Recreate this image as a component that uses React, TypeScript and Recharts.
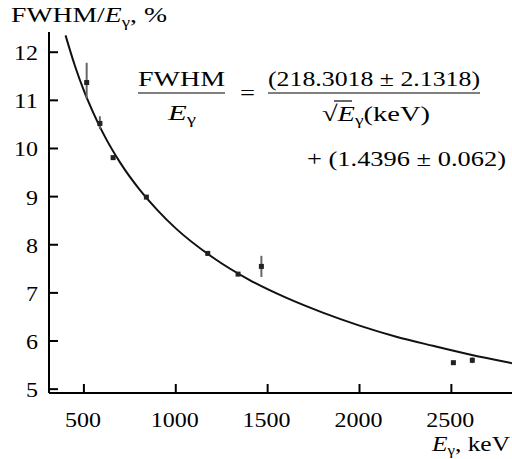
import React from 'react';
import { ComposedChart, Line, Scatter, XAxis, YAxis, ErrorBar } from 'recharts';

// measured points
const energies = [515, 587, 659, 840, 1174, 1339, 1466, 2511, 2614];
const fwhmPct = [11.37, 10.52, 9.81, 8.99, 7.82, 7.39, 7.55, 5.55, 5.6];
const errLow = [0.33, 0.12, 0.04, 0.02, 0.05, 0.03, 0.22, 0.02, 0.06];
const errHigh = [0.41, 0.15, 0.04, 0.02, 0.05, 0.03, 0.22, 0.02, 0.06];

// fitted curve
const fitE = [400, 450, 500, 550, 600, 700, 800, 900, 1000, 1200, 1400, 1600, 1800, 2000, 2200, 2400, 2600, 2830];
const fitV = [12.35, 11.73, 11.2, 10.75, 10.35, 9.69, 9.16, 8.72, 8.34, 7.74, 7.27, 6.9, 6.59, 6.32, 6.09, 5.9, 5.72, 5.54];

const xTicks = [500, 1000, 1500, 2000, 2500];
const yTicks = [5, 6, 7, 8, 9, 10, 11, 12];

const points = energies.map((e, i) => ({ x: e, y: fwhmPct[i], err: [errLow[i], errHigh[i]] }));
const curve = fitE.map((e, i) => ({ x: e, y: fitV[i] }));

const FONT = '"Times New Roman", Times, "Liberation Serif", serif';
const TS = { fontFamily: FONT };

const YTick = (props: any) => {
  const { x, y, payload } = props;
  const s = String(payload.value);
  const w = s.length * 12;
  return (
    <g>
      <line x1={x} x2={x + 9} y1={y} y2={y} stroke="#000" strokeWidth={2} />
      <text x={38 - w} y={y + 8} textLength={w} lengthAdjust="spacingAndGlyphs" fontSize={22} style={TS} fill="#000">{s}</text>
    </g>
  );
};

const XTick = (props: any) => {
  const { x, y, payload } = props;
  const s = String(payload.value);
  const w = s.length * 12;
  return (
    <g>
      <line x1={x} x2={x} y1={y} y2={y - 9} stroke="#000" strokeWidth={2} />
      <text x={x - w / 2 - 1} y={427} textLength={w} lengthAdjust="spacingAndGlyphs" fontSize={22} style={TS} fill="#000">{s}</text>
    </g>
  );
};

const Marker = (props: any) => {
  const { cx, cy } = props;
  return <rect x={cx - 2.5} y={cy - 2.5} width={5} height={5} fill="#222" />;
};

const Overlay = () => (
  <svg width={512} height={459} style={{ position: 'absolute', left: 0, top: 0, pointerEvents: 'none', fontFamily: FONT }}>
    <text x={11} y={22} fontSize={22} style={TS} textLength={156} lengthAdjust="spacingAndGlyphs">
      FWHM/<tspan fontStyle="italic">E</tspan><tspan fontSize={15} dy={5}>γ</tspan><tspan dy={-5}>, %</tspan>
    </text>
    <text x={432} y={451} fontSize={21} style={TS} textLength={78} lengthAdjust="spacingAndGlyphs">
      <tspan fontStyle="italic">E</tspan><tspan fontSize={14} dy={4}>γ</tspan><tspan dy={-4}>, keV</tspan>
    </text>
    {/* equation */}
    <text x={138} y={86} fontSize={22} style={TS} textLength={87} lengthAdjust="spacingAndGlyphs">FWHM</text>
    <line x1={138} x2={225} y1={93} y2={93} stroke="#000" strokeWidth={1.2} />
    <text x={168} y={120} fontSize={22} style={TS} textLength={28} lengthAdjust="spacingAndGlyphs">
      <tspan fontStyle="italic">E</tspan><tspan fontSize={15} dy={4}>γ</tspan>
    </text>
    <text x={240} y={100} fontSize={22} style={TS} textLength={15} lengthAdjust="spacingAndGlyphs">=</text>
    <text x={268} y={86} fontSize={22} style={TS} textLength={212} lengthAdjust="spacingAndGlyphs">(218.3018 ± 2.1318)</text>
    <line x1={268} x2={480} y1={93} y2={93} stroke="#000" strokeWidth={1.2} />
    <text x={322} y={121} fontSize={22} style={TS} textLength={108} lengthAdjust="spacingAndGlyphs">
      √<tspan fontStyle="italic">E</tspan><tspan fontSize={15} dy={4}>γ</tspan><tspan dy={-4}>(keV)</tspan>
    </text>
    <line x1={334} x2={352} y1={101} y2={101} stroke="#000" strokeWidth={1.2} />
    <text x={307} y={166} fontSize={22} style={TS} textLength={199} lengthAdjust="spacingAndGlyphs">+ (1.4396 ± 0.062)</text>
  </svg>
);

export default function App() {
  return (
    <div style={{ position: 'absolute', left: 0, top: 0, width: 512, height: 459, background: '#fff', fontFamily: FONT }}>
      <ComposedChart width={512} height={459} margin={{ top: 32, right: 0, bottom: 0, left: 0 }}>
        <XAxis
          type="number"
          dataKey="x"
          domain={[310, 2830]}
          ticks={xTicks}
          allowDataOverflow
          height={66}
          tickSize={0}
          tickMargin={0}
          tick={<XTick />}
          axisLine={{ stroke: '#000', strokeWidth: 2 }}
        />
        <YAxis
          type="number"
          dataKey="y"
          domain={[4.92, 12.42]}
          ticks={yTicks}
          allowDataOverflow
          width={49}
          tickSize={0}
          tickMargin={0}
          tick={<YTick />}
          axisLine={{ stroke: '#000', strokeWidth: 2 }}
        />
        <Line data={curve} dataKey="y" type="monotone" stroke="#111" strokeWidth={2} dot={false} isAnimationActive={false} />
        <Scatter data={points} dataKey="y" shape={<Marker />} isAnimationActive={false}>
          <ErrorBar dataKey="err" direction="y" width={0} stroke="#666" strokeWidth={2} />
        </Scatter>
      </ComposedChart>
      <Overlay />
    </div>
  );
}
